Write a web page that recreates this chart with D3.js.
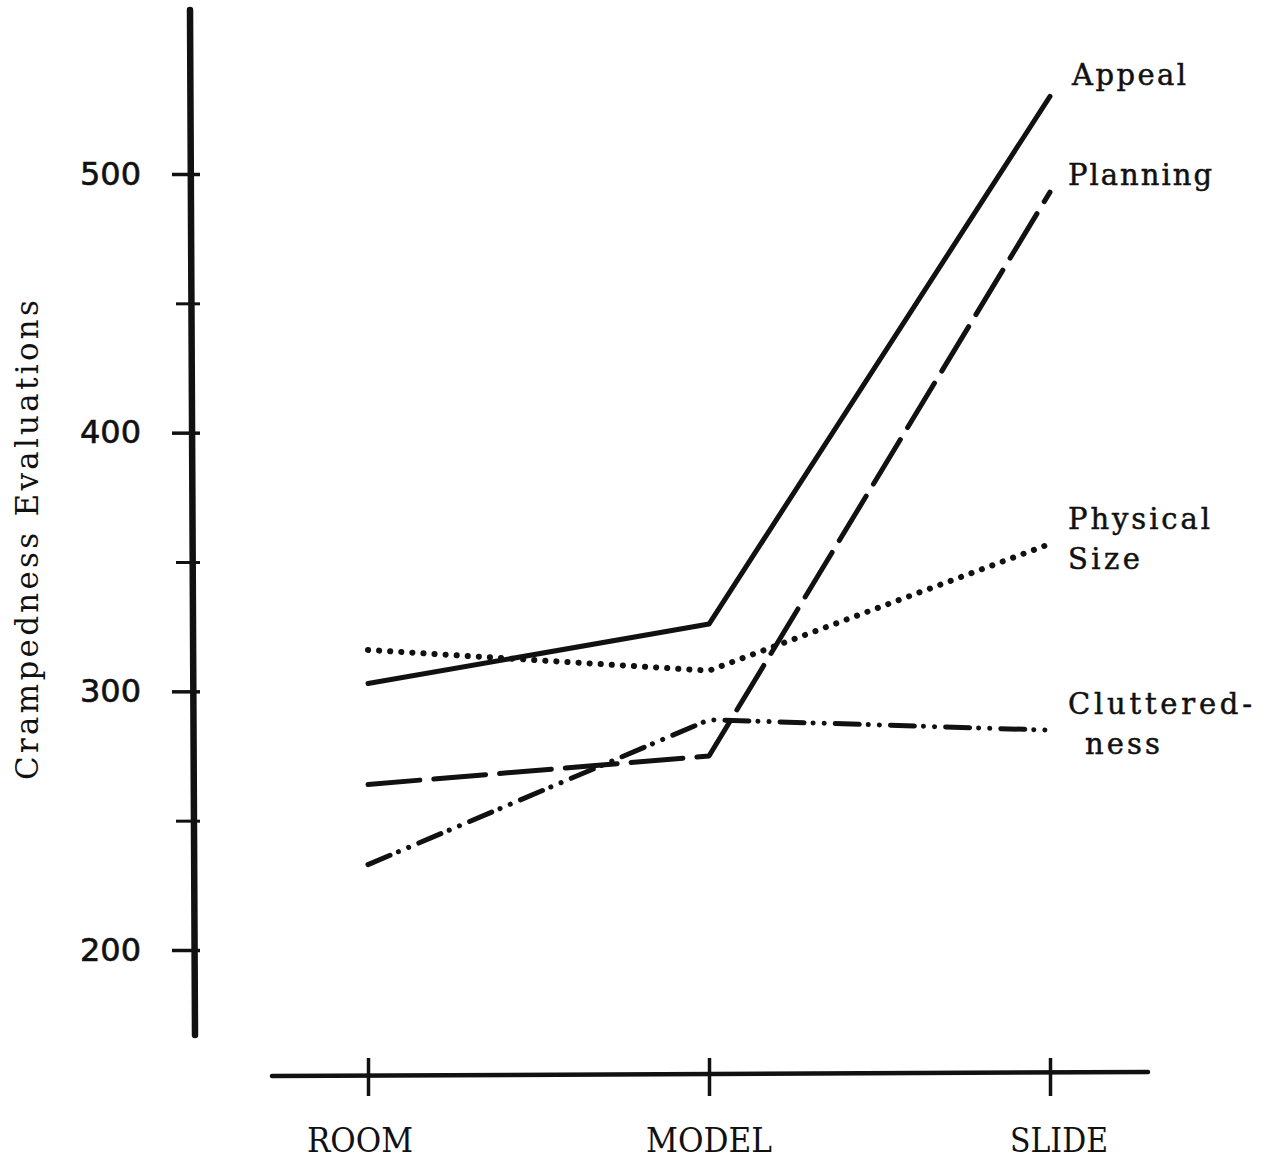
<!DOCTYPE html>
<html><head><meta charset="utf-8">
<script src="https://cdn.jsdelivr.net/npm/d3@7"></script>
<style>body{margin:0;background:#fff}svg{display:block}</style>
</head><body>
<svg id="c" width="1266" height="1160"></svg>
<script>
const categories = ["ROOM", "MODEL", "SLIDE"];
const appeal = [303, 326, 530];
const planning = [264, 275, 493];
const physicalSize = [316, 308, 357];
const clutteredness = [233, 289, 285];
const majorTicks = [200, 300, 400, 500];
const minorTicks = [250, 350, 450];
const seriesNames = ["Appeal", "Planning", "Physical Size", "Clutteredness"];

const svg = d3.select("#c");
const y = d3.scaleLinear().domain([200, 500]).range([950, 174]);
const x = d3.scalePoint().domain(categories).range([368, 1050]);
const ink = "#111";

// y axis
svg.append("line").attr("x1", 190).attr("y1", 10).attr("x2", 195).attr("y2", 1035)
  .attr("stroke", ink).attr("stroke-width", 6.5).attr("stroke-linecap", "round");
const yAx = svg.append("g").attr("transform", "translate(200,0)")
  .call(d3.axisLeft(y).tickValues(majorTicks).tickSize(28).tickPadding(31).tickFormat(d3.format("d")));
yAx.select(".domain").remove();
yAx.selectAll(".tick line").attr("stroke", ink).attr("stroke-width", 3.5);
yAx.selectAll("text").attr("font-family", "DejaVu Sans").attr("font-size", 32).attr("fill", ink)
  .attr("stroke", ink).attr("stroke-width", 0.6);
const yMin = svg.append("g").attr("transform", "translate(200,0)")
  .call(d3.axisLeft(y).tickValues(minorTicks).tickSize(24).tickFormat(""));
yMin.select(".domain").remove();
yMin.selectAll(".tick line").attr("stroke", ink).attr("stroke-width", 3);

svg.append("text").attr("transform", "translate(38,540) rotate(-90)")
  .attr("text-anchor", "middle").attr("font-family", "DejaVu Serif").attr("font-size", 31)
  .attr("textLength", 480).attr("lengthAdjust", "spacing").attr("fill", ink)
  .text("Crampedness Evaluations");

// x axis
svg.append("line").attr("x1", 272).attr("y1", 1076).attr("x2", 1148).attr("y2", 1072)
  .attr("stroke", ink).attr("stroke-width", 4.5).attr("stroke-linecap", "round");
const xAx = svg.append("g").attr("transform", "translate(0,1096)")
  .call(d3.axisTop(x).tickSize(38).tickPadding(0).tickFormat(""));
xAx.select(".domain").remove();
xAx.selectAll(".tick line").attr("stroke", ink).attr("stroke-width", 3.5);
const xLabelWidths = [106, 126, 98];
svg.append("g").selectAll("text").data(categories).join("text")
  .attr("x", d => x(d) + (d === "SLIDE" ? 9 : (d === "ROOM" ? -8 : 0)))
  .attr("y", 1152).attr("text-anchor", "middle")
  .attr("font-family", "DejaVu Serif").attr("font-size", 33).attr("fill", ink)
  .attr("textLength", (d, i) => xLabelWidths[i]).attr("lengthAdjust", "spacingAndGlyphs")
  .text(d => d);

// series
const line = d3.line().x((d, i) => x(categories[i])).y(d => y(d));
const styles = [
  {data: appeal, dash: null},
  {data: planning, dash: "52,14"},
  {data: physicalSize, dash: "0.1,11"},
  {data: clutteredness, dash: "24,9,0.1,11,0.1,11"}
];
svg.append("g").selectAll("path").data(styles).join("path")
  .attr("d", d => line(d.data))
  .attr("fill", "none").attr("stroke", ink)
  .attr("stroke-width", d => d.dash === "0.1,11" ? 6 : 5)
  .attr("stroke-linecap", "round").attr("stroke-linejoin", "round")
  .attr("stroke-dasharray", d => d.dash);

// labels
const labelLines = [["Appeal"], ["Planning"], ["Physical", "Size"], ["Cluttered-", "ness"]];
const labelWidths = [[114], [144], [142, 72], [184, 75]];
const labelX = [[1072], [1068], [1068, 1068], [1068, 1085]];
const labelY = [74, 174, 518, 703];
const lbl = svg.append("g");
labelLines.forEach((ls, i) => {
  const t = lbl.append("text").attr("y", labelY[i] + 11)
    .attr("font-family", "DejaVu Serif").attr("font-size", 29)
    .attr("fill", ink).attr("stroke", ink).attr("stroke-width", 0.5);
  ls.forEach((s, j) => t.append("tspan").attr("x", labelX[i][j]).attr("dy", j ? 40 : 0)
    .attr("textLength", labelWidths[i][j]).attr("lengthAdjust", "spacing").text(s));
});
</script>
</body></html>
